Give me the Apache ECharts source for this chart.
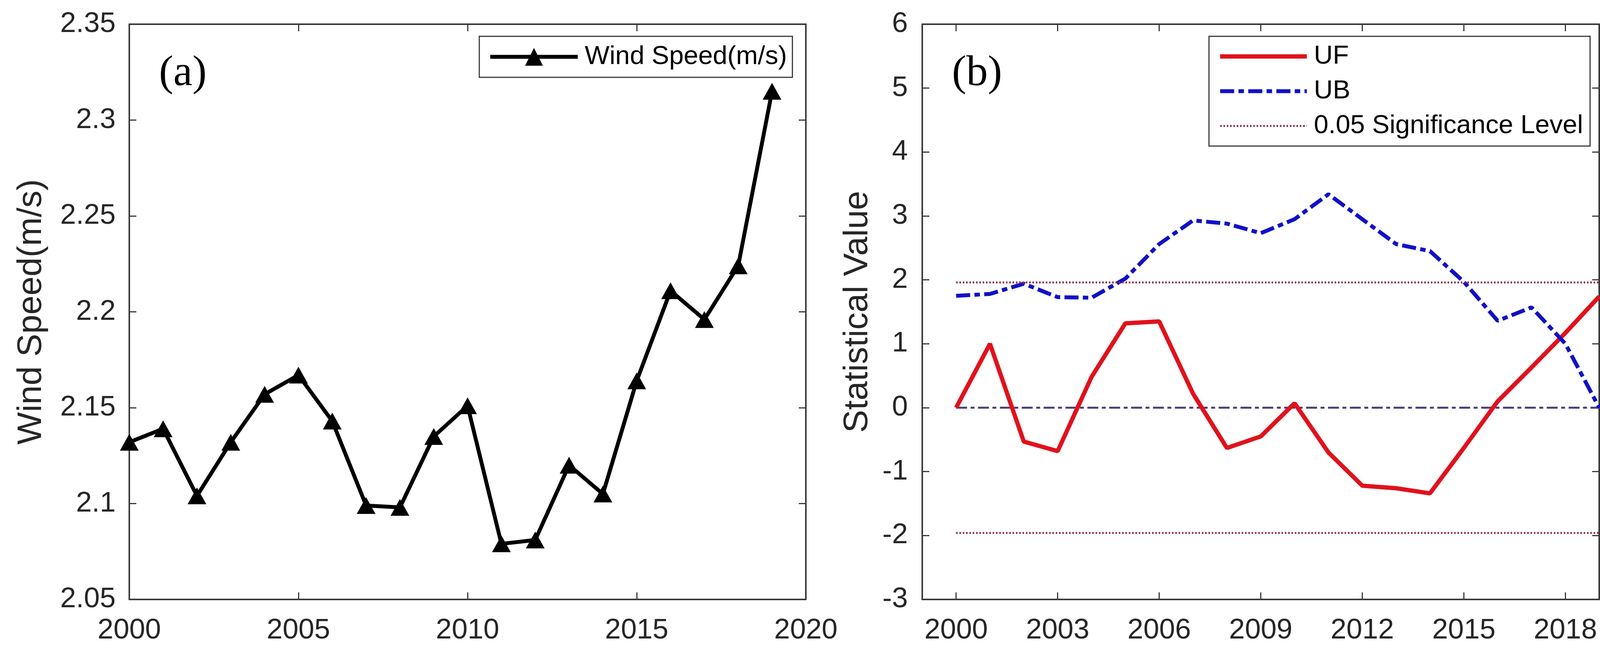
<!DOCTYPE html>
<html>
<head>
<meta charset="utf-8">
<style>
  html, body { margin: 0; padding: 0; background: #ffffff; }
  #chart { width: 4175px; height: 1708px; }
</style>
<script src="https://cdn.jsdelivr.net/npm/echarts@6/dist/echarts.min.js"></script>
</head>
<body>
<div id="chart"></div>
<script>
// ---------- data ----------
const years = [2000, 2001, 2002, 2003, 2004, 2005, 2006, 2007, 2008, 2009,
               2010, 2011, 2012, 2013, 2014, 2015, 2016, 2017, 2018, 2019];
const windSpeed = [2.132, 2.139, 2.104, 2.132, 2.157, 2.167, 2.143, 2.099, 2.098, 2.135,
                   2.151, 2.079, 2.081, 2.120, 2.105, 2.164, 2.211, 2.196, 2.224, 2.315];
const ufValues = [0.00, 1.00, -0.53, -0.68, 0.48, 1.32, 1.35, 0.22, -0.63, -0.45,
                  0.07, -0.70, -1.22, -1.26, -1.34, -0.63, 0.10, 0.63, 1.17, 1.74];
const ubValues = [1.75, 1.78, 1.94, 1.73, 1.72, 2.02, 2.56, 2.93, 2.88, 2.73,
                  2.95, 3.34, 2.95, 2.56, 2.45, 1.97, 1.36, 1.57, 1.00, 0.00];
const sigLevel = 1.96;
const xTicksB = [2000, 2003, 2006, 2009, 2012, 2015, 2018];
const legendA = ['Wind Speed(m/s)'];
const legendB = ['UF', 'UB', '0.05 Significance Level'];

// ---------- styling ----------
const FONT = 'Liberation Sans, Arial, sans-serif';
const TXT = '#262626';
const FRAME = '#3a3a3a';
const tickFont = 73;

const gridA = { left: 331, top: 62, width: 1732, height: 1473 };
const gridB = { left: 2361, top: 62, width: 1733, height: 1473 };

function axisLineStyle() { return { show: true, onZero: false, lineStyle: { color: FRAME, width: 4 } }; }
function tickStyle() { return { show: true, inside: true, length: 18, lineStyle: { color: FRAME, width: 3 } }; }
const labelStyle = { color: TXT, fontFamily: FONT, fontSize: tickFont };

const xAxes = [
  { // A bottom
    type: 'value', gridIndex: 0, position: 'bottom', min: 2000, max: 2020, interval: 5,
    axisLine: axisLineStyle(), axisTick: tickStyle(), splitLine: { show: false },
    axisLabel: Object.assign({ margin: 43, formatter: v => String(v) }, labelStyle)
  },
  { // A top
    type: 'value', gridIndex: 0, position: 'top', min: 2000, max: 2020, interval: 5,
    axisLine: axisLineStyle(), axisTick: tickStyle(), splitLine: { show: false },
    axisLabel: { show: false }
  },
  { // B bottom
    type: 'value', gridIndex: 1, position: 'bottom', min: 1999, max: 2019,
    axisLine: axisLineStyle(),
    axisTick: Object.assign(tickStyle(), { customValues: xTicksB }),
    splitLine: { show: false },
    axisLabel: Object.assign({ margin: 43, customValues: xTicksB, formatter: v => String(v) }, labelStyle)
  },
  { // B top
    type: 'value', gridIndex: 1, position: 'top', min: 1999, max: 2019,
    axisLine: axisLineStyle(),
    axisTick: Object.assign(tickStyle(), { customValues: xTicksB }),
    splitLine: { show: false },
    axisLabel: { show: false }
  }
];

const yAxes = [
  { // A left
    type: 'value', gridIndex: 0, position: 'left', min: 2.05, max: 2.35, interval: 0.05,
    name: 'Wind Speed(m/s)', nameLocation: 'middle', nameGap: 206,
    nameTextStyle: { color: TXT, fontFamily: FONT, fontSize: 88 },
    axisLine: axisLineStyle(), axisTick: tickStyle(), splitLine: { show: false },
    axisLabel: Object.assign({ margin: 35, formatter: v => String(parseFloat(v.toFixed(2))) }, labelStyle)
  },
  { // A right
    type: 'value', gridIndex: 0, position: 'right', min: 2.05, max: 2.35, interval: 0.05,
    axisLine: axisLineStyle(), axisTick: tickStyle(), splitLine: { show: false },
    axisLabel: { show: false }
  },
  { // B left
    type: 'value', gridIndex: 1, position: 'left', min: -3, max: 6, interval: 1,
    name: 'Statistical Value', nameLocation: 'middle', nameGap: 121,
    nameTextStyle: { color: TXT, fontFamily: FONT, fontSize: 88 },
    axisLine: axisLineStyle(), axisTick: tickStyle(), splitLine: { show: false },
    axisLabel: Object.assign({ margin: 37 }, labelStyle)
  },
  { // B right
    type: 'value', gridIndex: 1, position: 'right', min: -3, max: 6, interval: 1,
    axisLine: axisLineStyle(), axisTick: tickStyle(), splitLine: { show: false },
    axisLabel: { show: false }
  }
];

const pair = (xs, ys) => xs.map((x, i) => [x, ys[i]]);
const first = years[0], last = years[years.length - 1];

const RED = '#e0121c', BLUE = '#1010c8', SIG = '#8e2e48', ZERO = '#4a3a78';
const W_BLACK = 10, W_UF = 11, W_UB = 10, W_SIG = 5, W_ZERO = 5;
const DASH_UB = [36, 11, 14, 11], DASH_SIG = [4, 4.5], DASH_ZERO = [28, 9, 10, 9];

const series = [
  {
    name: legendA[0], type: 'line', xAxisIndex: 0, yAxisIndex: 0,
    data: pair(years, windSpeed),
    symbol: 'triangle', symbolSize: [48, 43], showSymbol: true,
    itemStyle: { color: '#000000' },
    lineStyle: { color: '#000000', width: W_BLACK },
    emphasis: { disabled: true }, animation: false, z: 3
  },
  {
    name: 'zero', type: 'line', xAxisIndex: 2, yAxisIndex: 2,
    data: [[first, 0], [last, 0]], symbol: 'none',
    itemStyle: { color: ZERO },
    lineStyle: { color: ZERO, width: W_ZERO, type: DASH_ZERO },
    emphasis: { disabled: true }, animation: false, z: 2
  },
  {
    name: legendB[0], type: 'line', xAxisIndex: 2, yAxisIndex: 2,
    data: pair(years, ufValues), symbol: 'none',
    itemStyle: { color: RED },
    lineStyle: { color: RED, width: W_UF },
    emphasis: { disabled: true }, animation: false, z: 3
  },
  {
    name: legendB[1], type: 'line', xAxisIndex: 2, yAxisIndex: 2,
    data: pair(years, ubValues), symbol: 'none',
    itemStyle: { color: BLUE },
    lineStyle: { color: BLUE, width: W_UB, type: DASH_UB },
    emphasis: { disabled: true }, animation: false, z: 3
  },
  {
    name: legendB[2], type: 'line', xAxisIndex: 2, yAxisIndex: 2,
    data: [[first, sigLevel], [last, sigLevel]], symbol: 'none',
    itemStyle: { color: SIG },
    lineStyle: { color: SIG, width: W_SIG, type: DASH_SIG },
    emphasis: { disabled: true }, animation: false, z: 4
  },
  {
    name: legendB[2], type: 'line', xAxisIndex: 2, yAxisIndex: 2,
    data: [[first, -sigLevel], [last, -sigLevel]], symbol: 'none',
    itemStyle: { color: SIG },
    lineStyle: { color: SIG, width: W_SIG, type: DASH_SIG },
    emphasis: { disabled: true }, animation: false, z: 4
  }
];

const legendText = { color: '#000000', fontFamily: FONT, fontSize: 67, padding: [0, 0, 0, 13] };

const option = {
  backgroundColor: '#ffffff',
  animation: false,
  grid: [
    Object.assign({ containLabel: false }, gridA),
    Object.assign({ containLabel: false }, gridB)
  ],
  xAxis: xAxes,
  yAxis: yAxes,
  legend: [
    {
      data: [{ name: legendA[0], lineStyle: { width: W_BLACK, color: '#000000' } }],
      left: 1227, top: 93, orient: 'horizontal',
      itemWidth: 224, itemHeight: 57,
      lineStyle: { width: W_BLACK },
      padding: [19, 14, 19, 23],
      backgroundColor: '#ffffff', borderColor: FRAME, borderWidth: 3, borderRadius: 0,
      textStyle: legendText, selectedMode: false
    },
    {
      data: [
        { name: legendB[0], lineStyle: { width: W_UF, color: RED, type: 'solid' } },
        { name: legendB[1], lineStyle: { width: W_UB, color: BLUE, type: DASH_UB } },
        { name: legendB[2], lineStyle: { width: W_SIG, color: SIG, type: DASH_SIG } }
      ],
      left: 3095, top: 93, orient: 'vertical', align: 'left',
      itemWidth: 222, itemHeight: 2, itemGap: 22,
      padding: [18, 18, 18, 23],
      backgroundColor: '#ffffff', borderColor: FRAME, borderWidth: 3, borderRadius: 0,
      textStyle: legendText, selectedMode: false
    }
  ],
  graphic: [
    { type: 'text', left: 407, top: 134, z: 10,
      style: { text: '(a)', fill: '#000000', font: '110px "Liberation Serif", "Times New Roman", serif' } },
    { type: 'text', left: 2437, top: 134, z: 10,
      style: { text: '(b)', fill: '#000000', font: '110px "Liberation Serif", "Times New Roman", serif' } }
  ],
  series: series
};

const chart = echarts.init(document.getElementById('chart'), null, { renderer: 'canvas' });
chart.setOption(option);
</script>
</body>
</html>
